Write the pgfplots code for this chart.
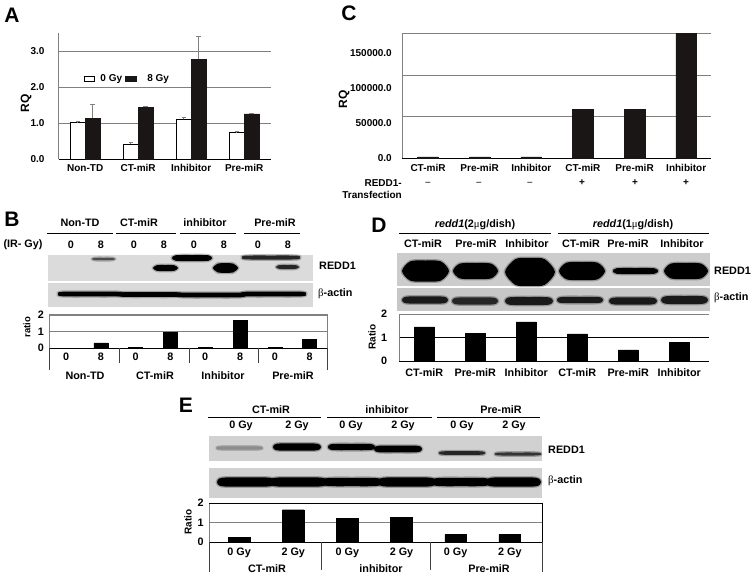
\documentclass[border=0pt]{standalone}
\usepackage{fontspec}
\usepackage{pgfplots}
\pgfplotsset{compat=1.18}
\setmainfont{Liberation Sans}
\newfontfamily\symb{Liberation Serif}
\definecolor{barblk}{HTML}{1A1616}
\definecolor{gridgr}{HTML}{808080}
\newcommand\lab{\bfseries\fontsize{10}{12}\selectfont}
\newcommand\labb{\bfseries\fontsize{10.8}{12}\selectfont}
\newcommand\letter{\bfseries\fontsize{21}{24}\selectfont}

% panel axes: positions are in reference pixels, 1px = 1pt
\pgfplotsset{
  panel/.style={
    scale only axis, anchor=south west, axis lines=left,
    axis line style={-}, major tick length=0pt,
    x axis line style={black,line width=0.9pt},
    y axis line style={gridgr,line width=0.9pt},
    ymajorgrids, grid style={gridgr,line width=0.8pt},
    xtick=data, ybar,
    tick label style={font=\lab,inner sep=0pt,text height=7.2pt,text depth=0pt},
    xticklabel style={yshift=-4.5pt},
    yticklabel style={xshift=-6pt},
  },
}
% gel drawing helpers, used in the overlay axis (pixel coordinates)
\newcommand\gel[5]{\addplot[fill=#5,draw=none,forget plot] coordinates {(#1,#3)(#2,#3)(#2,#4)(#1,#4)} --cycle;}
\newcommand\bandshape[5]{%
  \pgfmathsetmacro\xa{#2}\pgfmathsetmacro\xb{#2+0.6*(#5)+2}\pgfmathsetmacro\xm{(#2+#3)/2}%
  \pgfmathsetmacro\xc{#3-0.6*(#5)-2}\pgfmathsetmacro\xd{#3}%
  \pgfmathsetmacro\yc{#4}\pgfmathsetmacro\yt{#4-0.92*(#5)}\pgfmathsetmacro\yb{#4+0.92*(#5)}%
  \pgfmathsetmacro\ymt{#4-(#5)}\pgfmathsetmacro\ymb{#4+(#5)}%
  \edef\tmp{\noexpand\addplot[#1,draw=none,smooth cycle,forget plot] coordinates
   {(\xa,\yc)(\xb,\yt)(\xm,\ymt)(\xc,\yt)(\xd,\yc)(\xc,\yb)(\xm,\ymb)(\xb,\yb)};}\tmp}
\newcommand\band[5][black]{%
  \bandshape{fill=black,fill opacity=0.25}{#2-1.5}{#3+1.5}{#4}{#5+1.3}%
  \bandshape{fill=#1}{#2}{#3}{#4}{#5}}
\newcommand\tc[3]{\node[inner sep=0pt,font=\labb] at (#1,#2) {#3};}
\newcommand\tl[3]{\node[inner sep=0pt,font=\labb,anchor=west] at (#1,#2) {#3};}
\newcommand\hr[3]{\draw[black,line width=0.7pt] (#1,#3)--(#2,#3);}
\newcommand\vr[3]{\draw[black!75,line width=0.8pt] (#1,#2)--(#1,#3);}

\begin{document}
\begin{tikzpicture}[x=1pt,y=-1pt]
\path[use as bounding box] (0,0) rectangle (753,576);

% ---- western blots ----
\begin{axis}[scale only axis,anchor=south west,at={(0pt,-576pt)},width=753pt,height=576pt,
  xmin=0,xmax=753,ymin=0,ymax=576,y dir=reverse,hide axis,clip=false]
% B
\gel{48}{313}{255}{281}{black!14}
\gel{48}{313}{283}{307}{black!15}
\band[black!70]{92}{115}{259}{1.2}
\band{153}{178}{268}{3}
\band{172}{212}{258}{3}
\band[black!85]{242}{300}{257.5}{2}
\band{213}{238}{268}{4.8}
\band[black!85]{276}{299}{267}{2}
\band{58}{122}{294}{2.4}\band{118}{182}{294.5}{2.4}\band{178}{245}{295}{2.4}\band{241}{306}{294}{2.4}
% D
\gel{397}{710}{253}{286}{black!20}
\gel{397}{710}{288}{311}{black!22}
\band{402}{449}{271}{10.5}
\band{453}{498}{271}{8}
\band{505}{555}{272}{14}
\band{559}{605}{271}{9}
\band{613}{658}{271}{3}
\band{664}{708}{271}{8}
\band[black!90]{402}{448}{300}{3.6}
\band[black!85]{452}{498}{301}{3.6}
\band[black!90]{505}{553}{301}{4}
\band[black!90]{557}{603}{300}{3.2}
\band[black!90]{609}{657}{301}{3.6}
\band[black!90]{661}{708}{300}{4}
% E
\gel{209}{542}{436}{461}{black!18}
\gel{209}{542}{468}{498}{black!18}
\band[black!45]{217}{262}{448}{1.3}
\band{273}{321}{447}{3.6}
\band{328}{375}{447}{3.2}
\band{374}{422}{449}{3.4}
\band[black!85]{439}{485}{453}{1.8}
\band[black!80]{495}{541}{454}{1.5}
\band{217}{275}{482}{4.6}\band{270}{327}{482}{4.6}\band{322}{382}{482}{4.2}
\band{378}{436}{482}{4.6}\band{432}{490}{482}{4.2}\band{486}{541}{482}{4.6}
\end{axis}

% ---- panel A ----
\begin{axis}[panel,at={(58.7pt,-159.3pt)},width=212pt,height=126pt,
  xmin=-0.5,xmax=3.5,ymin=0,ymax=3.5,ybar=0pt,bar width=14.8pt,
  yticklabel style={xshift=-8pt},
  xtick={0,1,2,3},xticklabels={Non-TD,CT-miR,Inhibitor,Pre-miR},
  ytick={0,1,2,3},yticklabels={0.0,1.0,2.0,3.0},
  legend style={at={(0.119,0.637)},anchor=west,draw=none,fill=none,inner sep=0pt,
    font=\lab,legend columns=2,/tikz/nodes={inner sep=0pt},
    /tikz/column 2/.style={column sep=3pt}},
  legend cell align=left]
\addplot[draw=black,line width=0.7pt,fill=white,
  legend image code/.code={\draw[black,line width=0.6pt,fill=white] (0pt,-2.6pt) rectangle (10pt,2.6pt);\path (15.7pt,0pt);},
  error bars/.cd,y dir=plus,y explicit,error bar style={gridgr,line width=0.7pt},
  error mark options={rotate=90,mark size=2pt,gridgr}]
  coordinates {(0,1.02)+-(0,0.05) (1,0.42)+-(0,0.05) (2,1.11)+-(0,0.06) (3,0.74)+-(0,0.04)};
\addlegendentry{0 Gy}
\addplot[draw=barblk,fill=barblk,
  legend image code/.code={\fill[barblk] (0pt,-2.6pt) rectangle (10.5pt,2.6pt);\path (21.7pt,0pt);},
  error bars/.cd,y dir=plus,y explicit,error bar style={gridgr,line width=0.7pt},
  error mark options={rotate=90,mark size=2.5pt,gridgr}]
  coordinates {(0,1.14)+-(0,0.39) (1,1.44)+-(0,0.03) (2,2.78)+-(0,0.64) (3,1.26)+-(0,0.02)};
\addlegendentry{8 Gy}
\end{axis}

% ---- panel C ----
\begin{axis}[panel,at={(402pt,-158.3pt)},width=309pt,height=125pt,
  xmin=-0.504,xmax=5.48,ymin=0,ymax=178000,bar width=20.7pt,
  bar shift=0pt,ymajorgrids=false,scaled y ticks=false,
  yticklabel style={xshift=-4pt},xticklabel style={yshift=-1pt},
  xtick={0,1,2,3,4,5},xticklabels={CT-miR,Pre-miR,Inhibitor,CT-miR,Pre-miR,Inhibitor},
  ytick={0,50000,100000,150000},yticklabels={0.0,50000.0,100000.0,150000.0},
  extra y ticks={59300,118700,178000},extra y tick labels={},
  extra y tick style={grid=major,grid style={gridgr,line width=0.8pt}}]
\addplot[draw=barblk,fill=barblk] coordinates {(0,2000)(1,2000)(2,2000)(3,70200)(4,69700)(5,178000)};
\end{axis}

% ---- panel B ----
\begin{axis}[panel,at={(49pt,-348.3pt)},width=278.7pt,height=33.6pt,
  xmin=-0.49,xmax=7.52,ymin=0,ymax=2,bar width=14pt,
  tick label style={font=\labb},
  xtick={0,...,7},xticklabels={0,8,0,8,0,8,0,8},
  ytick={0,1,2},yticklabels={0,1,2},yticklabel style={xshift=1pt}]
\addplot[draw=black,fill=black] coordinates {(0,0)(1,0.32)(2,0.05)(3,0.97)(4,0.05)(5,1.65)(6,0.05)(7,0.55)};
\end{axis}

% ---- panel D ----
\begin{axis}[panel,at={(399.3pt,-361pt)},width=310pt,height=47pt,
  xmin=-0.49,xmax=5.59,ymin=0,ymax=2,bar width=20pt,
  grid style={black,line width=0.7pt},
  tick label style={font=\labb},xticklabel style={yshift=-3.5pt},
  xtick={0,...,5},xticklabels={CT-miR,Pre-miR,Inhibitor,CT-miR,Pre-miR,Inhibitor},
  ytick={0,1,2},yticklabels={0,1,2},yticklabel style={xshift=-6pt}]
\addplot[draw=black,fill=black] coordinates {(0,1.45)(1,1.18)(2,1.67)(3,1.15)(4,0.47)(5,0.78)};
\end{axis}

% ---- panel E ----
\begin{axis}[panel,at={(209.3pt,-542.3pt)},width=333pt,height=39pt,
  xmin=-0.55,xmax=5.6,ymin=0,ymax=2,bar width=21.7pt,
  tick label style={font=\labb},xticklabel style={yshift=-1.5pt},
  xtick={0,...,5},xticklabels={0 Gy,2 Gy,0 Gy,2 Gy,0 Gy,2 Gy},
  ytick={0,1,2},yticklabels={0,1,2},yticklabel style={xshift=0.5pt}]
\addplot[draw=black,fill=black] coordinates {(0,0.27)(1,1.67)(2,1.22)(3,1.27)(4,0.4)(5,0.4)};
\end{axis}

% ---- panel letters ----
\node[inner sep=0pt,font=\letter] at (12,15) {A};
\node[inner sep=0pt,font=\letter] at (12,219) {B};
\node[inner sep=0pt,font=\letter] at (349,13) {C};
\node[inner sep=0pt,font=\letter] at (379,225) {D};
\node[inner sep=0pt,font=\letter] at (186,405) {E};

% ---- A, C text ----
\node[inner sep=0pt,rotate=90,font=\bfseries\fontsize{12}{14}\selectfont] at (26,103) {RQ};
\node[inner sep=0pt,rotate=90,font=\bfseries\fontsize{12}{14}\selectfont] at (344,99) {RQ};
\node[inner sep=0pt,font=\lab,anchor=east] at (402,183) {REDD1-};
\node[inner sep=0pt,font=\lab,anchor=east] at (402,195) {Transfection};
\foreach \x in {428,479,530} {\node[inner sep=0pt,font=\lab,text=black!70] at (\x,184) {--};}
\foreach \x in {582,635,686} {\node[inner sep=0pt,font=\lab] at (\x,182.5) {+};}

% ---- B text ----
\tc{80}{222.7}{Non-TD}\tc{139}{222.7}{CT-miR}\tc{205}{222.7}{inhibitor}\tc{275}{222.7}{Pre-miR}
\hr{47}{113}{233}\hr{116}{176}{233}\hr{180}{236}{233}\hr{244}{300}{233}
\tc{23}{245}{(IR- Gy)}
\tc{71}{245}{0}\tc{101}{245}{8}\tc{134}{245}{0}\tc{164}{245}{8}
\tc{194}{245}{0}\tc{224}{245}{8}\tc{258}{245}{0}\tc{288}{245}{8}
\tl{319}{266}{REDD1}
\tl{318}{294}{{\symb\mdseries β}-actin}
\node[inner sep=0pt,rotate=90,font=\bfseries\fontsize{9.5}{11}\selectfont] at (27,327) {ratio};
\draw[gridgr,line width=0.9pt] (49,315)--(327.7,315)--(327.7,348.3);
\vr{49}{348.3}{370}\vr{119.3}{348.3}{363}\vr{189.3}{348.3}{363}\vr{258.3}{348.3}{363}\vr{327.7}{348.3}{370}
\tc{85}{375.7}{Non-TD}\tc{155}{375.7}{CT-miR}\tc{223}{375.7}{Inhibitor}\tc{293}{375.7}{Pre-miR}

% ---- D text ----
\tc{475}{225}{\textit{redd1}(2{\symb\mdseries μ}g/dish)}
\tc{633}{225}{\textit{redd1}(1{\symb\mdseries μ}g/dish)}
\hr{399}{551}{233.3}\hr{558}{709}{233.3}
\tc{423}{244}{CT-miR}\tc{476}{244}{Pre-miR}\tc{527}{244}{Inhibitor}
\tc{581}{244}{CT-miR}\tc{628}{244}{Pre-miR}\tc{682}{244}{Inhibitor}
\tl{714}{271}{REDD1}
\tl{714}{298}{{\symb\mdseries β}-actin}
\node[inner sep=0pt,rotate=90,font=\bfseries\fontsize{10}{12}\selectfont] at (372,337) {Ratio};
\draw[gridgr,line width=0.8pt] (399.3,314)--(709.3,314);

% ---- E text ----
\tc{271}{410}{CT-miR}\tc{387}{410}{inhibitor}\tc{501}{410}{Pre-miR}
\hr{208}{321}{417.7}\hr{327}{432}{417.7}\hr{437}{540}{417.7}
\tc{241}{426}{0 Gy}\tc{297}{426}{2 Gy}\tc{351}{426}{0 Gy}
\tc{403}{426}{2 Gy}\tc{462}{426}{0 Gy}\tc{514}{426}{2 Gy}
\tl{548}{450}{REDD1}
\tl{548}{481}{{\symb\mdseries β}-actin}
\node[inner sep=0pt,rotate=90,font=\bfseries\fontsize{10}{12}\selectfont] at (188,522) {Ratio};
\draw[black,line width=0.7pt] (209.3,503.3)--(542.3,503.3)--(542.3,542.3);
\vr{209.3}{542.3}{571.7}\vr{321.7}{542.3}{570}\vr{430.7}{542.3}{570}\vr{542.3}{542.3}{571.7}
\tc{267}{568.7}{CT-miR}\tc{381}{568.7}{inhibitor}\tc{489}{568.7}{Pre-miR}
\end{tikzpicture}
\end{document}
